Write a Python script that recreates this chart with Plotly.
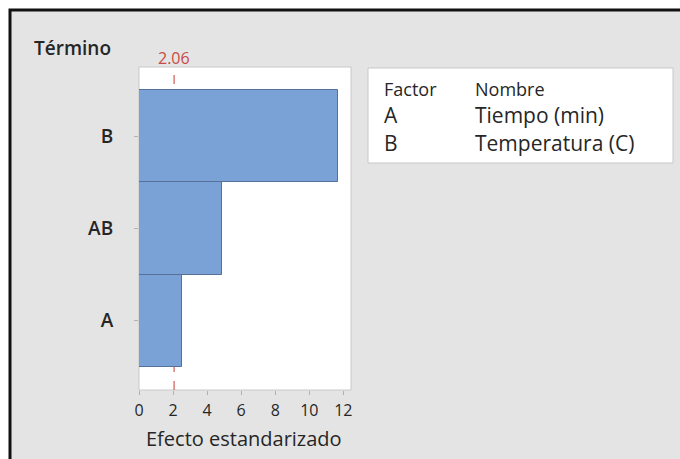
import plotly.graph_objects as go

# Data
terms = ["A", "AB", "B"]
effects = [2.52, 4.9, 11.69]
ref_value = 2.06
factor_codes = ["A", "B"]
factor_names = ["Tiempo (min)", "Temperatura (C)"]
x_ticks = [0, 2, 4, 6, 8, 10, 12]

W, H = 680, 459
L, R, T, B = 139, 329, 67, 69
pw, ph = W - L - R, H - T - B

def px(xp):
    return (xp - L) / pw

def py(yp):
    return (H - B - yp) / ph

FONT = "Open Sans"
TXT = "#262626"

fig = go.Figure()
fig.add_trace(go.Bar(
    y=terms, x=effects, orientation="h", width=1,
    marker=dict(color="#7aa2d6", line=dict(color="#56709a", width=1)),
    showlegend=False, hoverinfo="skip",
))

shapes = [
    dict(type="rect", xref="paper", yref="paper", x0=px(10), x1=px(720), y0=py(520), y1=py(10),
         fillcolor="#e4e4e4", line=dict(color="#111111", width=3), layer="below"),
    dict(type="rect", xref="x domain", yref="y domain", x0=0, x1=1, y0=0, y1=1,
         fillcolor="white", line=dict(color="#c8c8c8", width=1), layer="below"),
    dict(type="line", xref="x", yref="y domain", x0=ref_value, x1=ref_value, y0=0, y1=1,
         line=dict(color="#d05a50", width=1.2, dash="dash"), layer="below"),
    dict(type="rect", xref="paper", yref="paper", x0=px(368), x1=px(673), y0=py(163), y1=py(68),
         fillcolor="white", line=dict(color="#c8c8c8", width=1), layer="above"),
]

ann = [
    dict(text="Término", xref="paper", yref="paper", x=px(32), y=py(48), xanchor="left", yanchor="middle",
         showarrow=False, font=dict(family=FONT, size=19, color=TXT, weight=600)),
    dict(text=f"{ref_value:.2f}", xref="x", yref="paper", x=ref_value, y=py(58), xanchor="center", yanchor="middle",
         showarrow=False, font=dict(family=FONT, size=16, color="#c84b45")),
    dict(text="Efecto estandarizado", xref="paper", yref="paper", x=px(244), y=py(438), xanchor="center",
         yanchor="middle", showarrow=False, font=dict(family=FONT, size=20, color=TXT)),
    dict(text="Factor", xref="paper", yref="paper", x=px(382), y=py(89), xanchor="left", yanchor="middle",
         showarrow=False, font=dict(family=FONT, size=18, color=TXT)),
    dict(text="Nombre", xref="paper", yref="paper", x=px(473), y=py(89), xanchor="left", yanchor="middle",
         showarrow=False, font=dict(family=FONT, size=18, color=TXT)),
]
rows_y = [115, 143]
for code, name, yy in zip(factor_codes, factor_names, rows_y):
    ann.append(dict(text=code, xref="paper", yref="paper", x=px(382), y=py(yy), xanchor="left",
                    yanchor="middle", showarrow=False, font=dict(family=FONT, size=21, color=TXT)))
    ann.append(dict(text=name, xref="paper", yref="paper", x=px(473), y=py(yy), xanchor="left",
                    yanchor="middle", showarrow=False, font=dict(family=FONT, size=21, color=TXT)))

fig.update_layout(
    width=W, height=H, margin=dict(l=L, r=R, t=T, b=B, pad=0),
    paper_bgcolor="white", plot_bgcolor="rgba(0,0,0,0)",
    bargap=0, shapes=shapes, annotations=ann,
    font=dict(family=FONT, color=TXT),
    xaxis=dict(range=[0, 12.45], tickvals=x_ticks, showgrid=False, zeroline=False,
               ticks="outside", ticklen=4, tickcolor="#b0b0b0", showline=False,
               ticklabelstandoff=2,
               tickfont=dict(family=FONT, size=16, color=TXT)),
    yaxis=dict(type="category", categoryorder="array", categoryarray=terms, range=[-0.75, 2.75],
               showgrid=False, zeroline=False, ticks="outside", ticklen=4, tickcolor="#b0b0b0",
               showline=False, ticklabelstandoff=17,
               tickfont=dict(family=FONT, size=19, color=TXT, weight=600)),
)

fig.write_html("out.html", config={"displayModeBar": False},
               post_script="document.body.style.margin='0px';")
